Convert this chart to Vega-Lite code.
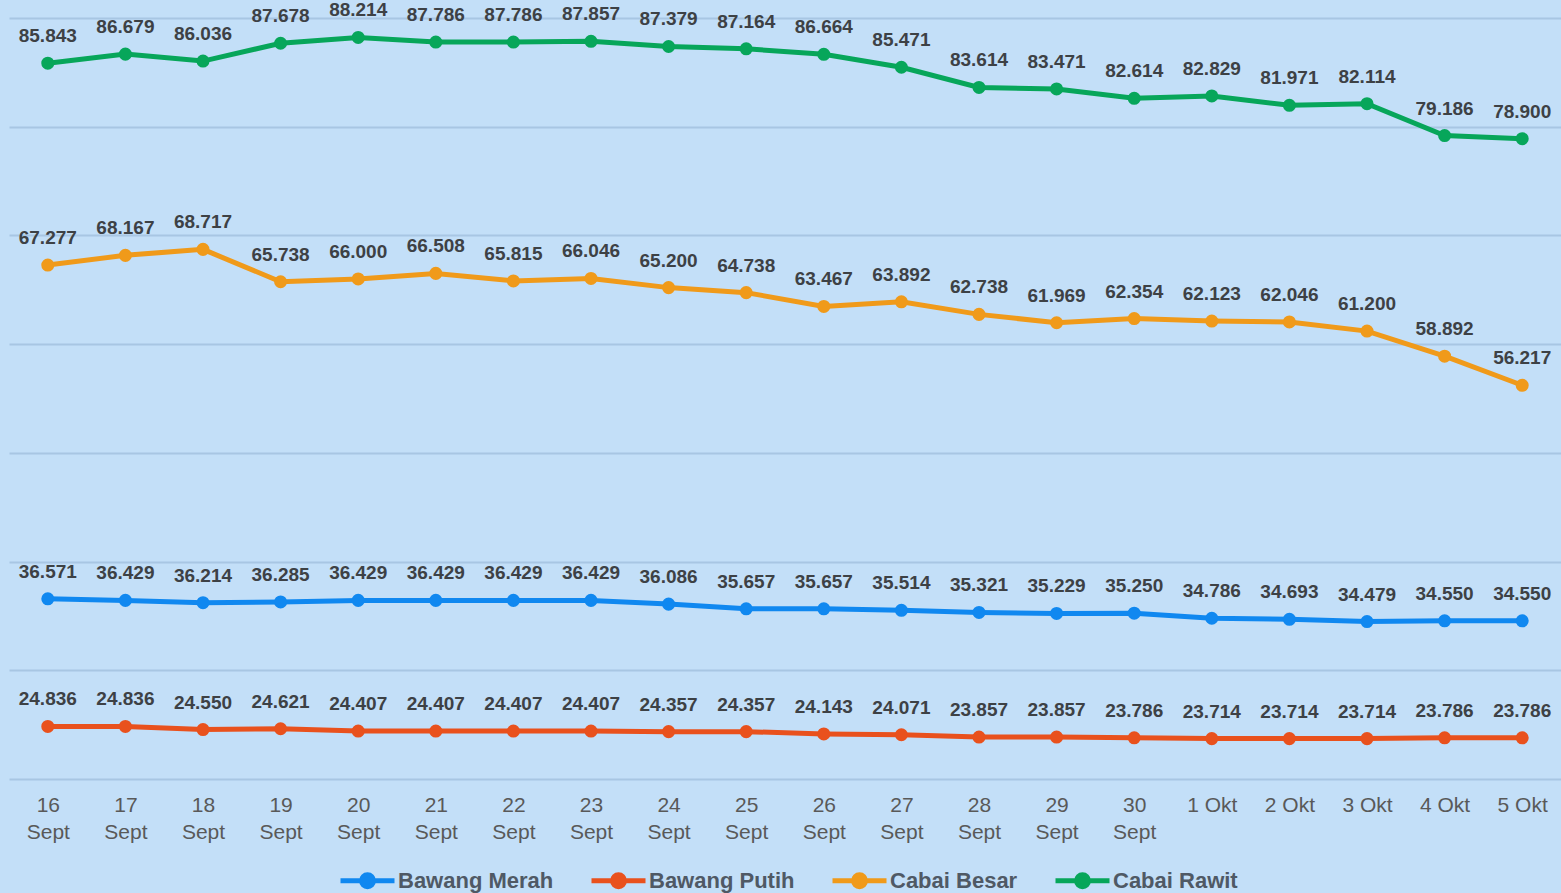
{
  "$schema": "https://vega.github.io/schema/vega-lite/v6.json",
  "autosize": {"type": "none"},
  "width": 1552,
  "height": 761,
  "padding": {"left": 9, "top": 18, "right": 0, "bottom": 114},
  "background": "#c3dff8",
  "config": {"view": {"stroke": null}, "font": "Liberation Sans"},
  "data": {"values": [
    {"tanggal": "16 Sept", "Bawang Merah": 36.571, "Bawang Putih": 24.836, "Cabai Besar": 67.277, "Cabai Rawit": 85.843},
    {"tanggal": "17 Sept", "Bawang Merah": 36.429, "Bawang Putih": 24.836, "Cabai Besar": 68.167, "Cabai Rawit": 86.679},
    {"tanggal": "18 Sept", "Bawang Merah": 36.214, "Bawang Putih": 24.550, "Cabai Besar": 68.717, "Cabai Rawit": 86.036},
    {"tanggal": "19 Sept", "Bawang Merah": 36.285, "Bawang Putih": 24.621, "Cabai Besar": 65.738, "Cabai Rawit": 87.678},
    {"tanggal": "20 Sept", "Bawang Merah": 36.429, "Bawang Putih": 24.407, "Cabai Besar": 66.000, "Cabai Rawit": 88.214},
    {"tanggal": "21 Sept", "Bawang Merah": 36.429, "Bawang Putih": 24.407, "Cabai Besar": 66.508, "Cabai Rawit": 87.786},
    {"tanggal": "22 Sept", "Bawang Merah": 36.429, "Bawang Putih": 24.407, "Cabai Besar": 65.815, "Cabai Rawit": 87.786},
    {"tanggal": "23 Sept", "Bawang Merah": 36.429, "Bawang Putih": 24.407, "Cabai Besar": 66.046, "Cabai Rawit": 87.857},
    {"tanggal": "24 Sept", "Bawang Merah": 36.086, "Bawang Putih": 24.357, "Cabai Besar": 65.200, "Cabai Rawit": 87.379},
    {"tanggal": "25 Sept", "Bawang Merah": 35.657, "Bawang Putih": 24.357, "Cabai Besar": 64.738, "Cabai Rawit": 87.164},
    {"tanggal": "26 Sept", "Bawang Merah": 35.657, "Bawang Putih": 24.143, "Cabai Besar": 63.467, "Cabai Rawit": 86.664},
    {"tanggal": "27 Sept", "Bawang Merah": 35.514, "Bawang Putih": 24.071, "Cabai Besar": 63.892, "Cabai Rawit": 85.471},
    {"tanggal": "28 Sept", "Bawang Merah": 35.321, "Bawang Putih": 23.857, "Cabai Besar": 62.738, "Cabai Rawit": 83.614},
    {"tanggal": "29 Sept", "Bawang Merah": 35.229, "Bawang Putih": 23.857, "Cabai Besar": 61.969, "Cabai Rawit": 83.471},
    {"tanggal": "30 Sept", "Bawang Merah": 35.250, "Bawang Putih": 23.786, "Cabai Besar": 62.354, "Cabai Rawit": 82.614},
    {"tanggal": "1 Okt", "Bawang Merah": 34.786, "Bawang Putih": 23.714, "Cabai Besar": 62.123, "Cabai Rawit": 82.829},
    {"tanggal": "2 Okt", "Bawang Merah": 34.693, "Bawang Putih": 23.714, "Cabai Besar": 62.046, "Cabai Rawit": 81.971},
    {"tanggal": "3 Okt", "Bawang Merah": 34.479, "Bawang Putih": 23.714, "Cabai Besar": 61.200, "Cabai Rawit": 82.114},
    {"tanggal": "4 Okt", "Bawang Merah": 34.550, "Bawang Putih": 23.786, "Cabai Besar": 58.892, "Cabai Rawit": 79.186},
    {"tanggal": "5 Okt", "Bawang Merah": 34.550, "Bawang Putih": 23.786, "Cabai Besar": 56.217, "Cabai Rawit": 78.900}
  ]},
  "transform": [
    {"fold": ["Bawang Merah", "Bawang Putih", "Cabai Besar", "Cabai Rawit"], "as": ["komoditas", "harga"]}
  ],
  "encoding": {
    "x": {
      "field": "tanggal", "type": "ordinal", "sort": null,
      "scale": {"type": "point", "padding": 0.5},
      "axis": {
        "title": null, "labelAngle": 0, "domain": false, "ticks": false, "grid": false,
        "labelFontSize": 21, "labelColor": "#595959", "labelLineHeight": 27, "labelPadding": 15,
        "labelBaseline": "top",
        "labelExpr": "indexof(datum.label, 'Sept') > 0 ? split(datum.label, ' ') : datum.label"
      }
    },
    "y": {
      "field": "harga", "type": "quantitative",
      "scale": {"domain": [20, 90], "nice": false, "zero": false},
      "axis": {
        "title": null, "labels": false, "ticks": false, "domain": false,
        "grid": true, "gridColor": "#a8c6e3", "gridWidth": 2,
        "values": [20, 30, 40, 50, 60, 70, 80, 90]
      }
    }
  },
  "layer": [
    {
      "mark": {"type": "line", "strokeWidth": 5, "point": {"filled": true, "size": 170}},
      "encoding": {
        "color": {
          "field": "komoditas", "type": "nominal",
          "scale": {
            "domain": ["Bawang Merah", "Bawang Putih", "Cabai Besar", "Cabai Rawit"],
            "range": ["#1088f0", "#e9511d", "#f09a1a", "#07a65a"]
          },
          "legend": {
            "orient": "none", "legendX": 329, "legendY": 833, "direction": "horizontal",
            "title": null,
            "symbolType": "M -1 0 L 1 0 M 0.22 0 A 0.22 0.22 0 1 1 -0.22 0 A 0.22 0.22 0 1 1 0.22 0 Z",
            "symbolSize": 2916, "symbolStrokeWidth": 5,
            "labelFontSize": 22, "labelFontWeight": "bold", "labelColor": "#4f5965",
            "labelFont": "Liberation Sans",
            "columnPadding": 27, "labelOffset": 1,
            "encode": {"symbols": {"update": {
              "fill": {"scale": "color", "field": "value"},
              "stroke": {"scale": "color", "field": "value"},
              "strokeWidth": {"value": 5},
              "opacity": {"value": 1}
            }}}
          }
        }
      }
    },
    {
      "mark": {"type": "text", "dy": -27, "fontSize": 19, "fontWeight": "bold", "color": "#3d4145", "baseline": "middle"},
      "encoding": {
        "text": {"field": "harga", "type": "quantitative", "format": ".3f"}
      }
    }
  ]
}
